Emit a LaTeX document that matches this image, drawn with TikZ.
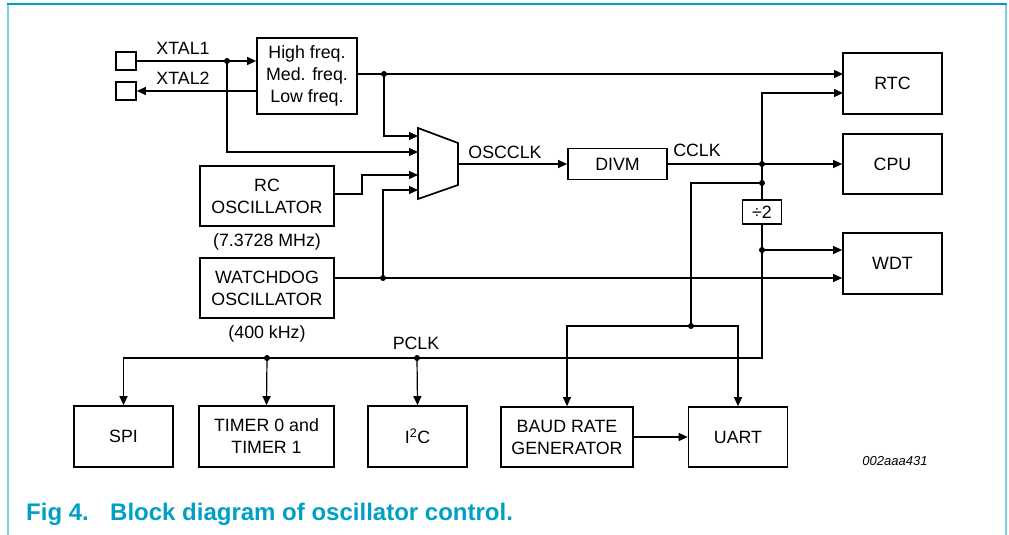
\documentclass[tikz,border=0pt]{standalone}
\usepackage{fontspec}
\setmainfont{Liberation Sans}
\usetikzlibrary{arrows.meta}
\definecolor{capblue}{HTML}{00A0C6}
\definecolor{frameblue}{HTML}{7ACFE3}
\tikzset{
	blk/.style={draw, line width=1.7pt, align=center, inner sep=0pt, font=\fontsize{17.8}{22}\selectfont},
	lbl/.style={inner sep=0pt, font=\fontsize{17.8}{22}\selectfont},
	wire/.style={line width=1.2pt},
	arr/.style={wire, -{Triangle[length=9pt,width=8pt]}},
}
\begin{document}
\begin{tikzpicture}[x=1pt,y=-1pt]
		\useasboundingbox (0,0) rectangle (1009,535);
		% frame
		\draw[frameblue, line width=2pt] (8,4) -- (8,535);
		\draw[frameblue, line width=2pt] (1006,4) -- (1006,535);
		\draw[capblue, line width=2pt] (7,4.5) -- (1007,4.5);
		% blocks
		\node (xa)[blk, minimum width=20pt, minimum height=18pt] at (126,61) {};
		\node (xb)[blk, minimum width=20pt, minimum height=18pt] at (126,91) {};
		\node (osc)[blk, minimum width=100pt, minimum height=76pt] at (307,76) {High freq.\\Med. freq.\\Low freq.};
		\node (rc)[blk, minimum width=134pt, minimum height=60pt] at (267,196) {RC\\OSCILLATOR};
		\node (wdog)[blk, minimum width=134pt, minimum height=60pt] at (267,288) {WATCHDOG\\OSCILLATOR};
		\node (divm)[blk, minimum width=99pt, minimum height=31pt] at (617.5,164) {DIVM};
		\node (rtc)[blk, minimum width=99pt, minimum height=61pt] at (892.5,83.5) {RTC};
		\node (cpu)[blk, minimum width=99pt, minimum height=60pt] at (892.5,164) {CPU};
		\node (wdt)[blk, minimum width=99pt, minimum height=61pt] at (892.5,263.5) {WDT};
		\node (div2)[blk, minimum width=39pt, minimum height=24pt] at (762,212) {÷2};
		\node (spi)[blk, minimum width=99pt, minimum height=61pt] at (123.5,436.5) {SPI};
		\node (tmr)[blk, minimum width=135pt, minimum height=61pt] at (266.5,436.5) {TIMER 0 and\\TIMER 1};
		\node (iic)[blk, minimum width=99pt, minimum height=61pt] at (417.5,436.5) {I\textsuperscript{2}C};
		\node (baud)[blk, minimum width=132pt, minimum height=60pt] at (567,437) {BAUD RATE\\GENERATOR};
		\node (uart)[blk, minimum width=99pt, minimum height=60pt] at (738,437) {UART};
		% multiplexer
		\draw[line width=1.7pt] (418,128) -- (458,143) -- (458,185) -- (418,199) -- cycle;
		\coordinate (m1) at (418,136);
		\coordinate (m2) at (418,152);
		\coordinate (m3) at (418,175);
		\coordinate (m4) at (418,190);
		\coordinate (mo) at (458,164);
		% junctions
		\coordinate (j1) at (227,61);
		\coordinate (j2) at (384,74);
		\coordinate (j3) at (383,278);
		\coordinate (j4) at (762,164);
		\coordinate (j5) at (762,183);
		\coordinate (j6) at (762,250);
		\coordinate (j7) at (691,326);
		\coordinate (j8) at (267,358);
		\coordinate (j9) at (417,358);
		\coordinate (b1) at (362,194);
		\coordinate (p0) at (762,358);
		\coordinate (r1) at (843,74);
		\coordinate (r2) at (843,93);
		% wires
		\draw[arr] (xa.east) -- (osc.west |- xa);
		\draw[arr] (osc.west |- xb) -- (xb.east);
		\draw[arr] (j1) |- (m2);
		\draw[wire] (osc.east |- j2) -- (j2);
		\draw[arr] (j2) -- (r1);
		\draw[arr] (j2) |- (m1);
		\draw[arr] (rc.east |- b1) -- (b1) |- (m3);
		\draw[wire] (wdog.east |- j3) -- (j3);
		\draw[arr] (j3) -- (wdt.west |- j3);
		\draw[arr] (j3) |- (m4);
		\draw[arr] (mo) -- (divm.west);
		\draw[wire] (divm.east) -- (j4);
		\draw[arr] (j4) -- (cpu.west);
		\draw[arr] (j4) |- (r2);
		\draw[wire] (j4) -- (div2.north);
		\draw[arr] (div2.south) -- (p0) -| (spi.north);
		\draw[arr] (j6) -- (wdt.west |- j6);
		\draw[wire] (j5) -| (j7);
		\draw[arr] (j7) -| (baud.north);
		\draw[arr] (j7) -| (uart.north);
		\draw[arr] (j8) -- (tmr.north);
		\draw[arr] (j9) -- (iic.north);
		\draw[arr] (baud.east) -- (uart.west);
		\foreach \j in {j1,j2,j3,j4,j5,j6,j7,j8,j9}
			\fill (\j) circle (3pt);
		% labels
		\node (l1)[lbl] at (183,48) {XTAL1};
		\node (l2)[lbl] at (183,78) {XTAL2};
		\node (l3)[lbl] at (505,152) {OSCCLK};
		\node (l4)[lbl] at (697,150) {CCLK};
		\node (l5)[lbl] at (416,343) {PCLK};
		\node (l6)[lbl] at (267,242) {(7.3728 MHz)};
		\node (l7)[lbl] at (267,334) {(400 kHz)};
		\node (id)[inner sep=0pt, font=\fontsize{13}{15}\selectfont\itshape] at (895,461) {002aaa431};
		\node (fig)[anchor=base west, inner sep=0pt, text=capblue, font=\fontsize{24}{28}\selectfont\bfseries] at (26,520) {Fig 4.};
		\node (cap)[anchor=base west, inner sep=0pt, text=capblue, font=\fontsize{24}{28}\selectfont\bfseries] at (110,520) {Block diagram of oscillator control.};
	\end{tikzpicture}
\end{document}
